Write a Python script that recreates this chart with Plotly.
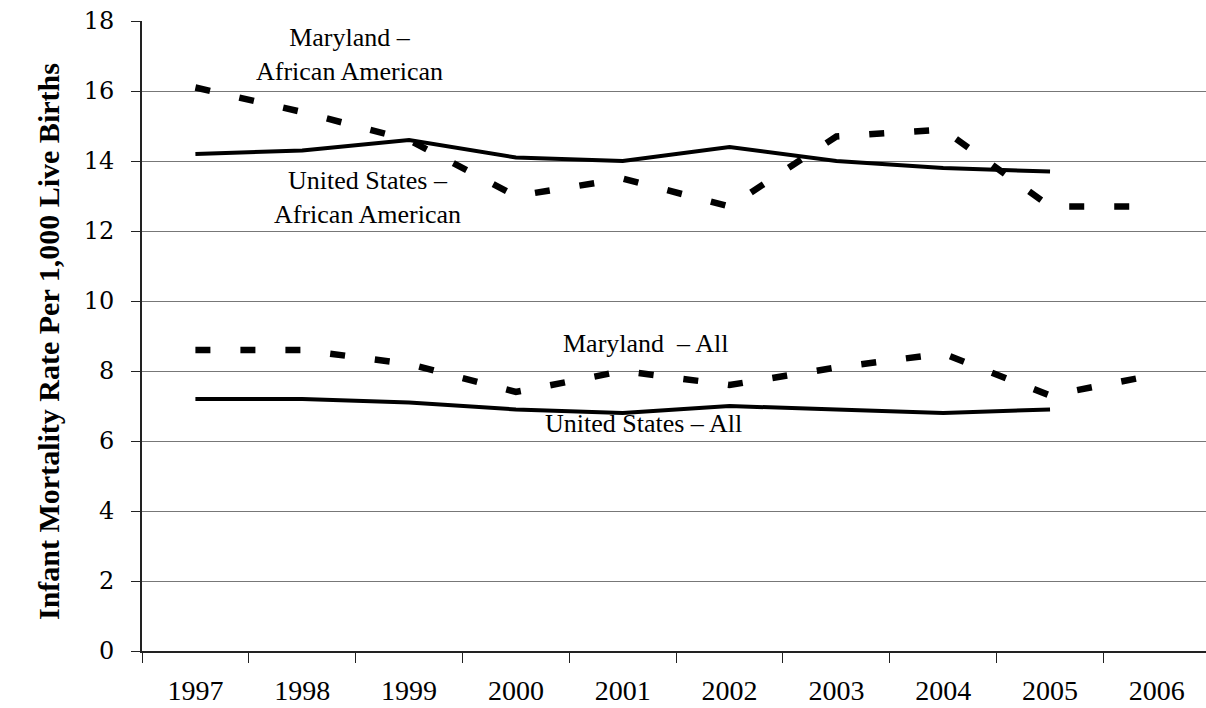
import plotly.graph_objects as go

years = ["1997", "1998", "1999", "2000", "2001", "2002", "2003", "2004", "2005", "2006"]
md_aa = [16.1, 15.4, 14.6, 13.0, 13.5, 12.7, 14.7, 14.9, 12.7, 12.7]
us_aa = [14.2, 14.3, 14.6, 14.1, 14.0, 14.4, 14.0, 13.8, 13.7, None]
md_all = [8.6, 8.6, 8.2, 7.4, 8.0, 7.6, 8.1, 8.5, 7.3, 7.9]
us_all = [7.2, 7.2, 7.1, 6.9, 6.8, 7.0, 6.9, 6.8, 6.9, None]

y_ticks = [0, 2, 4, 6, 8, 10, 12, 14, 16, 18]

FONT = "Liberation Serif, Times New Roman, serif"

fig = go.Figure()
dash_style = dict(color="black", width=6.5, dash="15px,30px")
solid_style = dict(color="black", width=4)

fig.add_trace(go.Scatter(x=years, y=md_aa, mode="lines", line=dash_style, name="Maryland – African American"))
fig.add_trace(go.Scatter(x=years, y=us_aa, mode="lines", line=solid_style, name="United States – African American"))
fig.add_trace(go.Scatter(x=years, y=md_all, mode="lines", line=dash_style, name="Maryland – All"))
fig.add_trace(go.Scatter(x=years, y=us_all, mode="lines", line=solid_style, name="United States – All"))

labels = [
    ("Maryland –<br>African American", 1.44, 17.03),
    ("United States –<br>African American", 1.61, 12.97),
    ("Maryland  – All", 4.21, 8.8),
    ("United States – All", 4.19, 6.49),
]
for text, xi, yv in labels:
    fig.add_annotation(x=xi, y=yv, xref="x", yref="y", text=text, showarrow=False,
                       font=dict(family=FONT, size=26, color="black"), align="center")

fig.add_annotation(x=(49 - 142) / 1064, y=0.4905, xref="paper", yref="paper",
                   xanchor="center", yanchor="middle",
                   text="<b>Infant Mortality Rate Per 1,000 Live Births</b>", textangle=-90,
                   showarrow=False, font=dict(family=FONT, size=30, color="black"))

fig.update_layout(
    width=1206, height=708,
    margin=dict(l=142, r=0, t=21, b=57),
    paper_bgcolor="white", plot_bgcolor="white",
    showlegend=False,
    font=dict(family=FONT, size=25, color="black"),
)
fig.update_xaxes(
    type="category", range=[-0.5, 9.46], tickson="boundaries",
    ticks="outside", ticklen=10, tickcolor="#222", tickwidth=1,
    showline=True, linecolor="#222", linewidth=2, showgrid=False, zeroline=False,
    ticklabelstandoff=13, tickfont=dict(family=FONT, size=28, color="black"),
)
fig.update_yaxes(
    range=[0, 18], tickvals=y_ticks, ticktext=[str(v) for v in y_ticks],
    ticks="outside", ticklen=9, tickcolor="#222", tickwidth=1,
    showline=True, linecolor="#222", linewidth=2,
    showgrid=True, gridcolor="#777", gridwidth=1, zeroline=False,
    ticklabelstandoff=12, tickfont=dict(family="DejaVu Serif, serif", size=24, color="black"),
)

fig.write_html(
    "out.html",
    config={"displayModeBar": False},
    post_script="document.body.style.margin='0';document.body.style.overflow='hidden';",
)
